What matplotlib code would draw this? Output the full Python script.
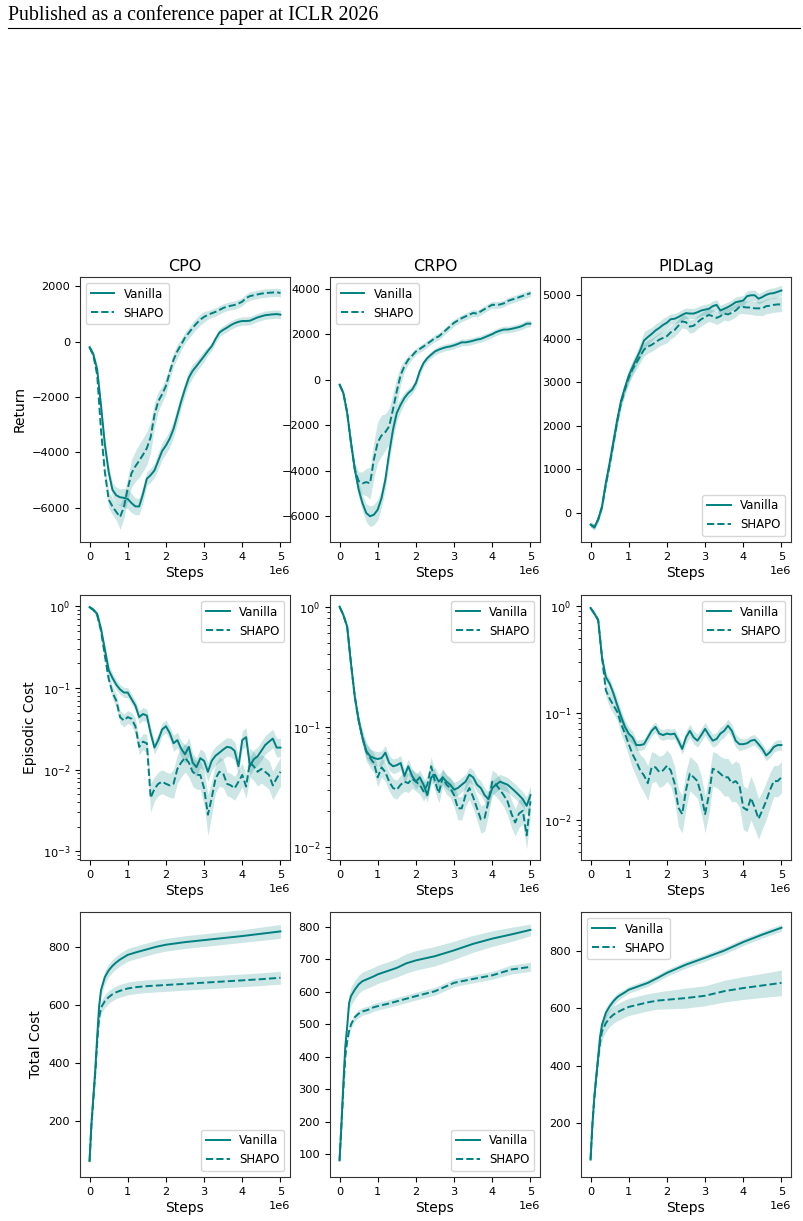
import numpy as np
import matplotlib
matplotlib.use("Agg")
import matplotlib.pyplot as plt
from matplotlib.lines import Line2D

TEAL = "#008080"

# training steps (in units of 1e6)
STEPS = [0.0, 0.1, 0.2, 0.3, 0.4, 0.5, 0.6, 0.7, 0.8, 0.9,
         1.0, 1.1, 1.2, 1.3, 1.4, 1.5, 1.6, 1.7, 1.8, 1.9,
         2.0, 2.1, 2.2, 2.3, 2.4, 2.5, 2.6, 2.7, 2.8, 2.9,
         3.0, 3.1, 3.2, 3.3, 3.4, 3.5, 3.6, 3.7, 3.8, 3.9,
         4.0, 4.1, 4.2, 4.3, 4.4, 4.5, 4.6, 4.7, 4.8, 4.9,
         5.0]
TC_STEPS = [0.0, 0.05, 0.1, 0.15, 0.2, 0.25, 0.3, 0.4, 0.5, 0.6, 0.7, 0.8,
            0.9, 1.0, 1.25, 1.5, 1.75, 2.0, 2.5, 3.0, 3.5, 4.0, 4.5, 5.0]

ALGOS = ["CPO", "CRPO", "PIDLag"]
METRICS = ["Return", "Episodic Cost", "Total Cost"]

# ---- Return ----
CPO_RET_VAN = [-200, -450, -1000, -2300, -3700, -4700, -5350, -5550, -5620, -5640,
               -5680, -5830, -5950, -5950, -5500, -4950, -4820, -4650, -4300, -3950,
               -3750, -3500, -3150, -2650, -2150, -1700, -1300, -1050, -880, -700,
               -520, -330, -160, 100, 330, 430, 510, 600, 670, 720,
               750, 750, 760, 820, 880, 920, 960, 975, 990, 1000,
               980]
CPO_RET_VAN_SD = [100, 100, 100, 150, 200, 250, 250, 300, 300, 350,
                  350, 350, 300, 300, 300, 250, 250, 250, 300, 300,
                  300, 300, 300, 300, 250, 250, 250, 250, 200, 200,
                  200, 150, 150, 150, 150, 150, 150, 150, 150, 150,
                  150, 150, 150, 150, 150, 150, 150, 150, 150, 150,
                  150]
CPO_RET_SHA = [-200, -500, -1200, -3200, -4700, -5700, -5950, -6150, -6330, -5980,
               -5300, -4750, -4500, -4300, -4080, -3850, -3450, -2650, -2150, -1900,
               -1600, -1100, -650, -340, -100, 150, 320, 500, 660, 800,
               900, 970, 1030, 1080, 1150, 1220, 1270, 1300, 1330, 1380,
               1450, 1580, 1650, 1680, 1710, 1740, 1760, 1770, 1780, 1790,
               1760]
CPO_RET_SHA_SD = [100, 100, 150, 200, 250, 300, 300, 300, 450, 400,
                  400, 500, 550, 600, 600, 600, 550, 450, 350, 300,
                  300, 250, 250, 250, 200, 200, 200, 200, 200, 200,
                  200, 150, 150, 150, 150, 150, 150, 150, 150, 150,
                  150, 150, 150, 150, 150, 150, 150, 150, 150, 150,
                  150]

CRPO_RET_VAN = [-220, -590, -1460, -2780, -3950, -4830, -5420, -5860, -6000, -5930,
                -5710, -5200, -4390, -3220, -2200, -1460, -1100, -800, -590, -440,
                -150, 370, 730, 950, 1100, 1240, 1320, 1380, 1430, 1460,
                1510, 1570, 1640, 1640, 1670, 1710, 1760, 1790, 1860, 1930,
                2000, 2090, 2150, 2200, 2200, 2230, 2270, 2310, 2370, 2460,
                2460]
CRPO_RET_VAN_SD = [100, 100, 150, 200, 250, 300, 350, 400, 450, 450,
                   450, 400, 400, 400, 400, 350, 300, 250, 200, 200,
                   200, 200, 150, 150, 150, 150, 150, 150, 150, 150,
                   150, 150, 150, 150, 150, 150, 150, 150, 150, 150,
                   150, 150, 150, 150, 150, 150, 150, 150, 150, 150,
                   150]
CRPO_RET_SHA = [-220, -590, -1460, -2780, -3950, -4450, -4550, -4500, -4550, -3500,
                -2750, -2450, -2300, -2050, -1300, -500, 200, 600, 880, 1050,
                1240, 1350, 1460, 1580, 1700, 1830, 1900, 2050, 2200, 2350,
                2500, 2600, 2700, 2780, 2850, 2930, 2900, 3000, 3100, 3200,
                3290, 3280, 3300, 3350, 3450, 3510, 3560, 3620, 3680, 3740,
                3800]
CRPO_RET_SHA_SD = [100, 100, 150, 200, 300, 400, 500, 600, 700, 800,
                   900, 900, 800, 800, 700, 600, 400, 250, 200, 150,
                   150, 150, 150, 150, 150, 150, 150, 150, 150, 150,
                   150, 150, 150, 150, 150, 150, 150, 150, 150, 150,
                   150, 150, 150, 150, 150, 150, 150, 150, 150, 150,
                   150]

PID_RET_VAN = [-270, -330, -150, 150, 690, 1150, 1650, 2150, 2580, 2880,
               3150, 3350, 3540, 3730, 3960, 4040, 4110, 4190, 4250, 4320,
               4370, 4450, 4460, 4500, 4550, 4590, 4580, 4580, 4610, 4650,
               4670, 4690, 4750, 4780, 4650, 4690, 4730, 4780, 4840, 4860,
               4880, 4980, 5000, 5000, 4920, 4960, 5010, 5040, 5050, 5080,
               5110]
PID_RET_VAN_SD = [60, 60, 60, 80, 100, 100, 120, 120, 120, 120,
                  150, 150, 150, 180, 200, 180, 150, 150, 150, 150,
                  150, 120, 120, 120, 120, 120, 120, 120, 120, 120,
                  120, 120, 120, 120, 120, 120, 120, 120, 120, 120,
                  120, 120, 120, 120, 120, 120, 120, 120, 120, 120,
                  120]
PID_RET_SHA = [-270, -330, -150, 130, 650, 1100, 1600, 2100, 2530, 2830,
               3100, 3300, 3450, 3600, 3750, 3820, 3860, 3920, 3980, 4020,
               4060, 4150, 4200, 4300, 4400, 4380, 4280, 4300, 4380, 4450,
               4500, 4550, 4520, 4480, 4520, 4580, 4560, 4600, 4650, 4730,
               4730, 4720, 4720, 4700, 4700, 4700, 4750, 4760, 4780, 4790,
               4790]
PID_RET_SHA_SD = [60, 60, 60, 80, 100, 100, 120, 120, 120, 120,
                  150, 150, 150, 150, 150, 150, 150, 150, 150, 150,
                  150, 150, 150, 150, 150, 150, 150, 150, 150, 150,
                  150, 150, 150, 150, 150, 150, 150, 150, 150, 150,
                  150, 150, 160, 160, 160, 170, 170, 170, 170, 170,
                  170]

# ---- Episodic cost (spread is a multiplicative factor) ----
CPO_EC_VAN = [0.98, 0.91, 0.81, 0.53, 0.30, 0.167, 0.133, 0.11, 0.096, 0.088,
              0.088, 0.073, 0.061, 0.044, 0.048, 0.046, 0.028, 0.0186, 0.023, 0.031,
              0.034, 0.028, 0.021, 0.023, 0.018, 0.0154, 0.019, 0.0122, 0.0107, 0.0138,
              0.0128, 0.0094, 0.0128, 0.0148, 0.0161, 0.0176, 0.019, 0.0186, 0.017, 0.011,
              0.023, 0.025, 0.011, 0.0134, 0.0145, 0.017, 0.020, 0.022, 0.024, 0.0186,
              0.0186]
CPO_EC_VAN_SP = [1.05, 1.05, 1.08, 1.1, 1.12, 1.15, 1.15, 1.15, 1.15, 1.15,
                 1.15, 1.15, 1.15, 1.2, 1.2, 1.2, 1.2, 1.2, 1.2, 1.2,
                 1.2, 1.2, 1.25, 1.25, 1.25, 1.3, 1.3, 1.3, 1.3, 1.3,
                 1.3, 1.3, 1.3, 1.3, 1.3, 1.3, 1.3, 1.3, 1.3, 1.3,
                 1.3, 1.3, 1.3, 1.3, 1.3, 1.3, 1.3, 1.3, 1.3, 1.3,
                 1.3]
CPO_EC_SHA = [0.98, 0.91, 0.78, 0.50, 0.25, 0.13, 0.088, 0.07, 0.044, 0.040,
              0.044, 0.042, 0.034, 0.019, 0.022, 0.021, 0.0045, 0.0058, 0.0067, 0.0071,
              0.0067, 0.0064, 0.0067, 0.0102, 0.0122, 0.014, 0.0122, 0.0094, 0.0086, 0.0086,
              0.0059, 0.0028, 0.0045, 0.0078, 0.0094, 0.009, 0.0067, 0.0064, 0.0059, 0.0071,
              0.0086, 0.0062, 0.0122, 0.011, 0.0094, 0.0102, 0.0094, 0.0086, 0.0064, 0.0078,
              0.0094]
CPO_EC_SHA_SP = [1.05, 1.05, 1.08, 1.1, 1.15, 1.15, 1.2, 1.2, 1.2, 1.2,
                 1.2, 1.2, 1.25, 1.25, 1.25, 1.3, 1.5, 1.4, 1.4, 1.4,
                 1.4, 1.4, 1.5, 1.5, 1.5, 1.5, 1.5, 1.5, 1.5, 1.5,
                 1.6, 1.8, 1.6, 1.5, 1.5, 1.5, 1.4, 1.4, 1.4, 1.4,
                 1.4, 1.4, 1.5, 1.5, 1.5, 1.5, 1.5, 1.5, 1.5, 1.5,
                 1.5]

CRPO_EC_VAN = [1.0, 0.85, 0.68, 0.335, 0.177, 0.113, 0.081, 0.063, 0.057, 0.055,
               0.054, 0.055, 0.061, 0.05, 0.047, 0.048, 0.05, 0.039, 0.047, 0.039,
               0.035, 0.038, 0.033, 0.027, 0.038, 0.040, 0.035, 0.038, 0.035, 0.033,
               0.030, 0.031, 0.033, 0.035, 0.040, 0.038, 0.033, 0.031, 0.027, 0.025,
               0.031, 0.033, 0.035, 0.034, 0.033, 0.031, 0.029, 0.027, 0.025, 0.022,
               0.027]
CRPO_EC_VAN_SP = [1.03, 1.05, 1.05, 1.08, 1.1, 1.1, 1.12, 1.15, 1.15, 1.15,
                  1.15, 1.15, 1.15, 1.15, 1.15, 1.15, 1.15, 1.15, 1.15, 1.15,
                  1.15, 1.15, 1.15, 1.15, 1.15, 1.15, 1.15, 1.15, 1.15, 1.15,
                  1.15, 1.15, 1.15, 1.15, 1.15, 1.15, 1.15, 1.15, 1.15, 1.15,
                  1.15, 1.15, 1.15, 1.15, 1.15, 1.15, 1.15, 1.15, 1.15, 1.2,
                  1.2]
CRPO_EC_SHA = [1.0, 0.85, 0.68, 0.335, 0.177, 0.113, 0.081, 0.062, 0.055, 0.05,
               0.038, 0.046, 0.042, 0.035, 0.031, 0.030, 0.033, 0.035, 0.034, 0.037,
               0.035, 0.033, 0.029, 0.033, 0.047, 0.035, 0.028, 0.038, 0.033, 0.031,
               0.027, 0.021, 0.021, 0.027, 0.031, 0.026, 0.021, 0.017, 0.0175, 0.024,
               0.035, 0.033, 0.030, 0.027, 0.024, 0.019, 0.016, 0.019, 0.020, 0.0125,
               0.024]
CRPO_EC_SHA_SP = [1.03, 1.05, 1.05, 1.08, 1.1, 1.1, 1.15, 1.2, 1.2, 1.2,
                  1.2, 1.2, 1.2, 1.2, 1.2, 1.2, 1.2, 1.2, 1.2, 1.2,
                  1.2, 1.2, 1.2, 1.2, 1.2, 1.2, 1.2, 1.2, 1.2, 1.2,
                  1.25, 1.25, 1.25, 1.25, 1.25, 1.25, 1.25, 1.3, 1.3, 1.3,
                  1.25, 1.25, 1.25, 1.25, 1.3, 1.3, 1.3, 1.3, 1.3, 1.3,
                  1.3]

PID_EC_VAN = [0.96, 0.85, 0.74, 0.33, 0.217, 0.188, 0.152, 0.118, 0.092, 0.074,
              0.064, 0.059, 0.05, 0.05, 0.051, 0.059, 0.068, 0.074, 0.064, 0.062,
              0.064, 0.063, 0.064, 0.055, 0.046, 0.059, 0.068, 0.059, 0.055, 0.062,
              0.071, 0.062, 0.055, 0.057, 0.064, 0.068, 0.076, 0.068, 0.055, 0.051,
              0.051, 0.052, 0.055, 0.056, 0.051, 0.046, 0.04, 0.043, 0.048, 0.05,
              0.05]
PID_EC_VAN_SP = [1.03, 1.05, 1.05, 1.1, 1.1, 1.12, 1.12, 1.15, 1.15, 1.15,
                 1.15, 1.15, 1.12, 1.12, 1.12, 1.12, 1.12, 1.12, 1.12, 1.12,
                 1.12, 1.12, 1.12, 1.12, 1.12, 1.15, 1.15, 1.15, 1.15, 1.15,
                 1.15, 1.15, 1.15, 1.15, 1.15, 1.15, 1.15, 1.15, 1.15, 1.15,
                 1.12, 1.12, 1.12, 1.12, 1.12, 1.12, 1.12, 1.12, 1.12, 1.12,
                 1.12]
PID_EC_SHA = [0.96, 0.85, 0.74, 0.33, 0.163, 0.136, 0.118, 0.102, 0.079, 0.064,
              0.051, 0.041, 0.035, 0.029, 0.026, 0.022, 0.031, 0.031, 0.028, 0.029,
              0.032, 0.029, 0.022, 0.013, 0.0113, 0.019, 0.027, 0.025, 0.023, 0.017,
              0.0113, 0.017, 0.030, 0.029, 0.027, 0.025, 0.025, 0.022, 0.023, 0.021,
              0.013, 0.0123, 0.016, 0.013, 0.0102, 0.0123, 0.015, 0.019, 0.023, 0.023,
              0.025]
PID_EC_SHA_SP = [1.03, 1.05, 1.05, 1.1, 1.15, 1.2, 1.2, 1.2, 1.25, 1.25,
                 1.3, 1.35, 1.4, 1.4, 1.45, 1.45, 1.4, 1.35, 1.4, 1.4,
                 1.4, 1.4, 1.45, 1.5, 1.5, 1.5, 1.45, 1.45, 1.45, 1.5,
                 1.5, 1.5, 1.45, 1.45, 1.45, 1.5, 1.5, 1.5, 1.55, 1.6,
                 1.6, 1.6, 1.6, 1.6, 1.55, 1.5, 1.5, 1.45, 1.4, 1.4,
                 1.4]

# ---- Total cost ----
CPO_TC_VAN = [60, 190, 282, 375, 490, 594, 650, 695, 718, 734, 746, 756,
              764, 772, 782, 791, 800, 807, 816, 823, 830, 837, 845, 853]
CPO_TC_VAN_SD = [8, 12, 15, 18, 20, 22, 22, 22, 22, 22, 22, 22,
                 22, 22, 22, 22, 22, 22, 22, 22, 22, 22, 23, 24]
CPO_TC_SHA = [60, 185, 275, 365, 470, 555, 590, 612, 626, 636, 643, 648,
              652, 656, 661, 664, 666, 668, 672, 676, 680, 684, 688, 693]
CPO_TC_SHA_SD = [8, 12, 15, 18, 20, 22, 22, 22, 22, 22, 22, 22,
                 22, 22, 22, 22, 22, 22, 22, 22, 22, 22, 22, 22]

CRPO_TC_VAN = [81, 195, 319, 432, 494, 566, 587, 607, 623, 633, 638, 643,
               648, 654, 664, 674, 688, 697, 710, 728, 748, 764, 777, 791]
CRPO_TC_VAN_SD = [10, 15, 15, 15, 20, 25, 28, 28, 28, 28, 28, 28,
                  28, 28, 28, 28, 30, 30, 30, 28, 26, 24, 22, 18]
CRPO_TC_SHA = [81, 190, 300, 400, 450, 480, 500, 522, 533, 540, 543, 547,
               553, 556, 563, 571, 579, 587, 602, 628, 640, 651, 669, 677]
CRPO_TC_SHA_SD = [10, 12, 12, 12, 12, 12, 12, 12, 12, 12, 12, 12,
                  12, 12, 12, 12, 12, 12, 12, 12, 12, 12, 14, 14]

PID_TC_VAN = [71, 197, 291, 361, 431, 502, 543, 584, 607, 625, 639, 648,
              656, 665, 677, 689, 706, 724, 753, 777, 802, 832, 858, 882]
PID_TC_VAN_SD = [8, 10, 12, 12, 14, 16, 18, 18, 16, 15, 14, 13,
                 12, 12, 12, 12, 12, 12, 12, 12, 12, 12, 12, 12]
PID_TC_SHA = [71, 195, 290, 360, 425, 480, 519, 548, 566, 578, 586, 593,
              599, 605, 613, 621, 627, 630, 636, 644, 660, 671, 680, 689]
PID_TC_SHA_SD = [5, 10, 15, 20, 25, 28, 30, 30, 30, 30, 30, 30,
                 30, 30, 30, 30, 30, 32, 35, 35, 38, 40, 42, 45]

YLIMS = [[(-7236, 2340), (-7130, 4509), (-670, 5420)],
         [(7.8e-4, 1.38), (0.0078, 1.25), (0.0042, 1.27)],
         [(5, 920), (30, 846), (10, 937)]]
YTICKS = [[[-6000, -4000, -2000, 0, 2000], [-6000, -4000, -2000, 0, 2000, 4000],
           [0, 1000, 2000, 3000, 4000, 5000]],
          [None, None, None],
          [[200, 400, 600, 800], [100, 200, 300, 400, 500, 600, 700, 800],
           [200, 400, 600, 800]]]
LEGEND_LOC = [["upper left", "upper left", "lower right"],
              ["upper right", "upper right", "upper right"],
              ["lower right", "lower right", "upper left"]]

PANELS = [
    [(STEPS, CPO_RET_VAN, CPO_RET_VAN_SD, CPO_RET_SHA, CPO_RET_SHA_SD),
     (STEPS, CRPO_RET_VAN, CRPO_RET_VAN_SD, CRPO_RET_SHA, CRPO_RET_SHA_SD),
     (STEPS, PID_RET_VAN, PID_RET_VAN_SD, PID_RET_SHA, PID_RET_SHA_SD)],
    [(STEPS, CPO_EC_VAN, CPO_EC_VAN_SP, CPO_EC_SHA, CPO_EC_SHA_SP),
     (STEPS, CRPO_EC_VAN, CRPO_EC_VAN_SP, CRPO_EC_SHA, CRPO_EC_SHA_SP),
     (STEPS, PID_EC_VAN, PID_EC_VAN_SP, PID_EC_SHA, PID_EC_SHA_SP)],
    [(TC_STEPS, CPO_TC_VAN, CPO_TC_VAN_SD, CPO_TC_SHA, CPO_TC_SHA_SD),
     (TC_STEPS, CRPO_TC_VAN, CRPO_TC_VAN_SD, CRPO_TC_SHA, CRPO_TC_SHA_SD),
     (TC_STEPS, PID_TC_VAN, PID_TC_VAN_SD, PID_TC_SHA, PID_TC_SHA_SD)],
]


def draw_panel(ax, steps, van, van_sd, sha, sha_sd, log=False):
    x = np.array(steps) * 1e6
    for mean, sd, ls, label in [(van, van_sd, "-", "Vanilla"),
                                (sha, sha_sd, "--", "SHAPO")]:
        mean = np.array(mean, dtype=float)
        sd = np.array(sd, dtype=float)
        if log:
            lo, hi = mean / sd, mean * sd
        else:
            lo, hi = mean - sd, mean + sd
        ax.fill_between(x, lo, hi, color=TEAL, alpha=0.2, linewidth=0)
        ax.plot(x, mean, ls, color=TEAL, lw=1.4, label=label)


W, H = 804, 1221
fig = plt.figure(figsize=(W / 100, H / 100), dpi=100)

# page header
fig.text(8 / W, 1 - 20 / H, "Published as a conference paper at ICLR 2026",
         fontsize=14.3, family="Liberation Serif", va="baseline", ha="left")
fig.add_artist(Line2D([8 / W, 800 / W], [1 - 27.5 / H] * 2,
                      color="black", lw=0.8))

col_left = [80, 330, 581]
row_top = [277, 595, 912]
ax_w, ax_h = 210, 265

for r in range(3):
    for c in range(3):
        ax = fig.add_axes([col_left[c] / W, 1 - (row_top[r] + ax_h) / H,
                           ax_w / W, ax_h / H])
        log = (r == 1)
        if log:
            ax.set_yscale("log")
        draw_panel(ax, *PANELS[r][c], log=log)
        ax.set_ylim(*YLIMS[r][c])
        if YTICKS[r][c] is not None:
            ax.set_yticks(YTICKS[r][c])
        ax.set_xticks([0, 1e6, 2e6, 3e6, 4e6, 5e6])
        ax.tick_params(labelsize=8.2)
        for sp in ax.spines.values():
            sp.set_edgecolor("#333333")
        ax.xaxis.get_offset_text().set_fontsize(8.2)
        ax.set_xlabel("Steps", fontsize=10, labelpad=3)
        if c == 0:
            ax.set_ylabel(METRICS[r], fontsize=10)
        if r == 0:
            ax.set_title(ALGOS[c], fontsize=11.5, pad=4)
        ax.legend(loc=LEGEND_LOC[r][c], fontsize=8.5)

fig.savefig("out.png", dpi=100)
